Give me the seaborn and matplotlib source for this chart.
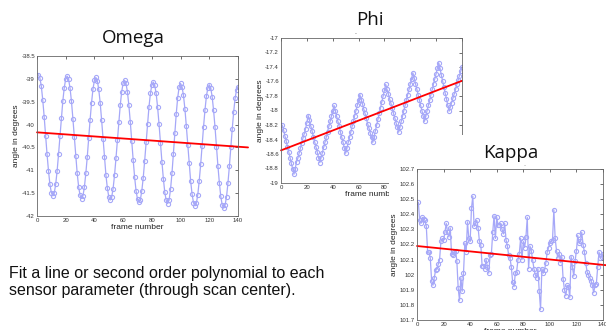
import matplotlib
matplotlib.use('Agg')
import matplotlib.pyplot as plt
import matplotlib.ticker as mticker
from matplotlib.patches import Rectangle
import seaborn as sns

sns.set_style('white')
plt.rcParams['font.family'] = ['Liberation Sans', 'DejaVu Sans']
plt.rcParams['axes.unicode_minus'] = False

frames = list(range(1, 141))

omega = [
    -38.91, -38.98, -39.16, -39.46, -39.83, -40.24, -40.65, -41.01, -41.31, -41.49,
    -41.56, -41.50, -41.31, -41.02, -40.65, -40.25, -39.85, -39.48, -39.19, -39.00,
    -38.94, -39.01, -39.20, -39.49, -39.87, -40.28, -40.69, -41.07, -41.36, -41.55,
    -41.62, -41.56, -41.37, -41.07, -40.71, -40.30, -39.89, -39.52, -39.22, -39.03,
    -38.97, -39.04, -39.23, -39.52, -39.90, -40.31, -40.72, -41.10, -41.39, -41.58,
    -41.65, -41.59, -41.40, -41.11, -40.74, -40.34, -39.94, -39.57, -39.28, -39.09,
    -39.03, -39.10, -39.29, -39.58, -39.95, -40.37, -40.78, -41.15, -41.45, -41.63,
    -41.70, -41.64, -41.45, -41.16, -40.79, -40.39, -39.98, -39.61, -39.32, -39.13,
    -39.07, -39.14, -39.32, -39.62, -39.99, -40.40, -40.81, -41.18, -41.48, -41.66,
    -41.73, -41.65, -41.42, -41.07, -40.64, -40.19, -39.76, -39.41, -39.18, -39.10,
    -39.17, -39.36, -39.65, -40.03, -40.44, -40.85, -41.23, -41.52, -41.71, -41.78,
    -41.72, -41.53, -41.23, -40.87, -40.46, -40.05, -39.68, -39.38, -39.20, -39.13,
    -39.20, -39.39, -39.69, -40.06, -40.48, -40.90, -41.27, -41.57, -41.76, -41.83,
    -41.76, -41.58, -41.28, -40.91, -40.50, -40.09, -39.72, -39.42, -39.24, -39.17,
]

phi = [
    -18.20, -18.27, -18.35, -18.42, -18.50, -18.57, -18.65, -18.73, -18.80, -18.88,
    -18.80, -18.71, -18.66, -18.59, -18.52, -18.45, -18.38, -18.32, -18.25, -18.17,
    -18.07, -18.13, -18.21, -18.28, -18.36, -18.43, -18.50, -18.57, -18.65, -18.72,
    -18.65, -18.58, -18.51, -18.44, -18.37, -18.29, -18.22, -18.15, -18.08, -18.01,
    -17.93, -18.00, -18.08, -18.15, -18.22, -18.30, -18.37, -18.44, -18.52, -18.59,
    -18.52, -18.44, -18.37, -18.30, -18.22, -18.15, -18.07, -18.00, -17.93, -17.86,
    -17.78, -17.85, -17.91, -17.98, -18.04, -18.11, -18.18, -18.24, -18.31, -18.37,
    -18.44, -18.36, -18.28, -18.20, -18.12, -18.04, -17.96, -17.88, -17.80, -17.72,
    -17.64, -17.71, -17.77, -17.84, -17.90, -17.97, -18.04, -18.10, -18.17, -18.23,
    -18.30, -18.23, -18.15, -18.08, -18.00, -17.93, -17.85, -17.78, -17.71, -17.63,
    -17.56, -17.48, -17.55, -17.63, -17.70, -17.78, -17.85, -17.93, -18.00, -18.08,
    -18.15, -18.08, -18.00, -17.93, -17.86, -17.78, -17.71, -17.63, -17.56, -17.49,
    -17.41, -17.34, -17.42, -17.51, -17.59, -17.68, -17.76, -17.84, -17.93, -18.01,
    -17.95, -17.89, -17.83, -17.77, -17.71, -17.64, -17.58, -17.52, -17.46, -17.40,
]

kappa = [
    102.48, 102.36, 102.34, 102.38, 102.37, 102.36, 102.32, 102.15, 102.15, 102.11,
    101.96, 101.93, 101.98, 102.03, 102.04, 102.07, 102.10, 102.22, 102.24, 102.23,
    102.28, 102.34, 102.28, 102.25, 102.31, 102.14, 102.13, 102.15, 102.16, 102.09,
    101.91, 101.83, 101.98, 101.89, 102.01, 102.21, 102.15, 102.35, 102.24, 102.22,
    102.44, 102.52, 102.32, 102.34, 102.36, 102.31, 102.22, 102.20, 102.06, 102.06,
    102.04, 102.10, 102.05, 102.01, 102.13, 102.14, 102.28, 102.39, 102.24, 102.38,
    102.33, 102.33, 102.34, 102.30, 102.27, 102.34, 102.23, 102.19, 102.13, 102.11,
    102.05, 101.95, 101.92, 102.01, 102.02, 102.10, 102.14, 102.24, 102.10, 102.22,
    102.18, 102.25, 102.38, 102.04, 102.19, 102.16, 102.10, 102.04, 102.00, 101.98,
    102.04, 101.89, 101.77, 102.04, 102.01, 102.03, 102.08, 102.15, 102.18, 102.21,
    102.22, 102.23, 102.43, 102.24, 102.16, 102.11, 102.14, 102.08, 102.12, 101.97,
    101.90, 101.86, 101.93, 101.92, 101.85, 102.12, 102.05, 101.99, 102.09, 102.16,
    102.26, 102.21, 102.22, 102.28, 102.20, 102.15, 102.08, 102.02, 102.00, 101.98,
    101.96, 101.93, 101.88, 101.93, 101.94, 102.05, 102.15, 102.11, 102.12, 102.14,
]

# fitted lines (end points)
omega_fit_x = [0, 147]
omega_fit_y = [-40.17, -40.50]
phi_fit_x = [0, 140]
phi_fit_y = [-18.55, -17.59]
kappa_fit_x = [0, 142.3]
kappa_fit_y = [102.19, 102.063]

titles = ['Omega', 'Phi', 'Kappa']
note = 'Fit a line or second order polynomial to each\nsensor parameter (through scan center).'

W, H = 606, 330
fig = plt.figure(figsize=(W / 100, H / 100), dpi=100)


def box(l, r, t, b):
    return [l / W, 1 - b / H, (r - l) / W, (b - t) / H]


blue = '#a6a8f8'
fmt = mticker.FuncFormatter(lambda v, p: f'{v:g}')


def panel(ax, y, fx, fy, ylim, ystep, xlabel):
    sns.lineplot(x=frames, y=y, ax=ax, color=blue, lw=0.9, marker='o',
                 markersize=3.0, markerfacecolor='none', markeredgecolor=blue,
                 markeredgewidth=0.8)
    sns.lineplot(x=fx, y=fy, ax=ax, color='red', lw=1.3, clip_on=False)
    ax.set_xlim(0, 140)
    ax.set_ylim(*ylim)
    ax.set_xticks(range(0, 141, 20))
    ax.yaxis.set_major_locator(mticker.MultipleLocator(ystep))
    ax.yaxis.set_major_formatter(fmt)
    ax.tick_params(direction='in', length=2, width=0.5, labelsize=4.3,
                   top=True, right=True, pad=1.5, colors='#333333')
    for s in ax.spines.values():
        s.set_linewidth(0.6)
        s.set_color('#666666')
    ax.set_xlabel(xlabel, fontsize=6, labelpad=0.5, color='#222222')
    ax.set_ylabel('angle in degrees', fontsize=6, labelpad=1, color='#222222')


ax1 = fig.add_axes(box(37, 238, 56, 216))
panel(ax1, omega, omega_fit_x, omega_fit_y, (-42, -38.5), 0.5, 'frame number')

ax2 = fig.add_axes(box(281, 462, 38, 183))
panel(ax2, phi, phi_fit_x, phi_fit_y, (-19, -17), 0.2, 'frame number')
ax2.set_zorder(0)

# white slide box of the Kappa picture lies over the Phi picture
fig.add_artist(Rectangle((389 / W, 0), 1 - 389 / W, 1 - 135 / H,
                         transform=fig.transFigure, facecolor='white',
                         edgecolor='none', zorder=0.5))

ax3 = fig.add_axes(box(417, 603, 169, 320))
panel(ax3, kappa, kappa_fit_x, kappa_fit_y, (101.7, 102.7), 0.1, 'frame number')
ax3.set_zorder(1)

title_font = ['Open Sans', 'DejaVu Sans']
fig.text(133 / W, 1 - 38 / H, titles[0], ha='center', va='center',
         fontsize=13.5, family=title_font, color='#111111')
fig.text(370 / W, 1 - 20 / H, titles[1], ha='center', va='center',
         fontsize=13.5, family=title_font, color='#111111', zorder=3)
fig.text(511 / W, 1 - 153 / H, titles[2], ha='center', va='center',
         fontsize=13.5, family=title_font, color='#111111', zorder=3)
# stray marks left under the Phi and Kappa titles
fig.text(355 / W, 1 - 33 / H, '.', ha='center', va='center', fontsize=5,
         color='#444444')
fig.text(525 / W, 1 - 164 / H, '..', ha='center', va='center', fontsize=4,
         color='#888888', zorder=3)

fig.text(9 / W, 1 - 282 / H, note, ha='left', va='center', fontsize=11.5,
         linespacing=1.15, color='#111111')

fig.savefig('out.png', dpi=100)
